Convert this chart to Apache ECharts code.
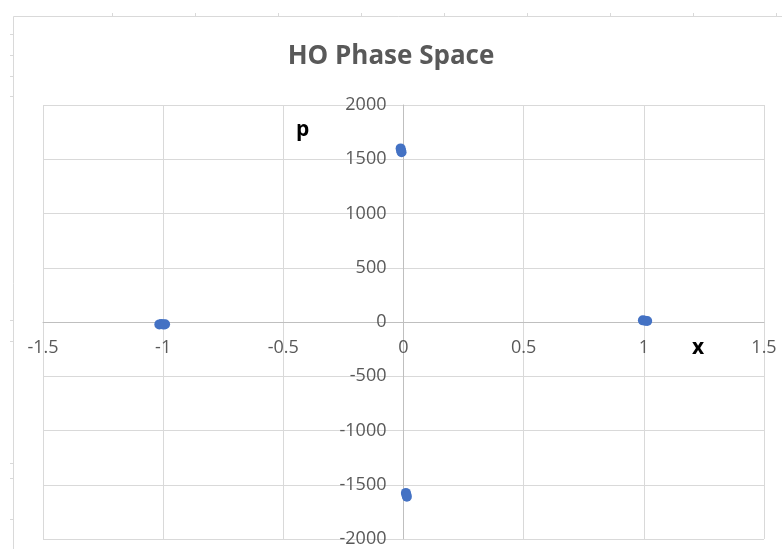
<!DOCTYPE html>
<html>
<head>
<meta charset="utf-8">
<title>HO Phase Space</title>
<script src="https://cdn.jsdelivr.net/npm/echarts@6/dist/echarts.min.js"></script>
<style>
  html, body { margin: 0; padding: 0; background: #ffffff; }
  #chart { width: 782px; height: 549px; }
</style>
</head>
<body>
<div id="chart"></div>
<script>
// Phase-space samples (position x, momentum p) of the harmonic oscillator
const xValues = [-1.016, -1.008, -0.998, -0.992,
                 -0.012, -0.010, -0.008,
                  0.996,  1.005,  1.014,
                  0.010,  0.012,  0.014];
const pValues = [-22, -18, -24, -20,
                 1600, 1580, 1565,
                 15, 12, 10,
                 -1575, -1592, -1610];

// Axis ranges and tick spacing
const xRange = [-1.5, 1.5];
const xStep = 0.5;
const pRange = [-2000, 2000];
const pStep = 500;

const points = xValues.map((x, i) => [x, pValues[i]]);

const labelFont = '"Open Sans", sans-serif';
const grey = '#595959';

// Plot area in pixels
const plot = { left: 43, right: 764, top: 105, bottom: 539 };
const W = 782, H = 549;

// Axes cross at the origin: shift each axis inward onto the other's zero
const xZeroPx = plot.left + (0 - xRange[0]) / (xRange[1] - xRange[0]) * (plot.right - plot.left);
const pZeroPx = plot.bottom - (0 - pRange[0]) / (pRange[1] - pRange[0]) * (plot.bottom - plot.top);

// Faint sheet gridline stubs around the chart frame
const stubs = [];
[112, 195, 278, 361, 444, 527, 610, 693, 776].forEach(x => {
  stubs.push({ type: 'line', silent: true,
    shape: { x1: x + 0.5, y1: 13, x2: x + 0.5, y2: 17 },
    style: { stroke: '#d9d9d9', lineWidth: 1 } });
});
[34, 55, 76, 96, 320, 341, 463, 478, 519].forEach(y => {
  stubs.push({ type: 'line', silent: true,
    shape: { x1: 10, y1: y + 0.5, x2: 13, y2: y + 0.5 },
    style: { stroke: '#d9d9d9', lineWidth: 1 } });
});

const chart = echarts.init(document.getElementById('chart'), null, { renderer: 'canvas' });
chart.setOption({
  backgroundColor: '#ffffff',
  animation: false,
  title: {
    text: 'HO Phase Space',
    left: 'center',
    top: 39,
    textStyle: { fontFamily: labelFont, fontWeight: 'bold', fontSize: 26, color: grey }
  },
  grid: {
    left: plot.left, right: W - plot.right, top: plot.top, bottom: H - plot.bottom,
    containLabel: false, outerBoundsMode: 'none'
  },
  xAxis: {
    type: 'value',
    min: xRange[0], max: xRange[1], interval: xStep,
    position: 'bottom',
    offset: -(plot.bottom - pZeroPx),
    axisLine: { onZero: false, lineStyle: { color: '#bfbfbf', width: 1 } },
    axisTick: { show: false },
    axisLabel: { color: grey, fontFamily: labelFont, fontSize: 18, margin: 17,
                 showMinLabel: true, showMaxLabel: true,
                 formatter: v => String(v) },
    splitLine: { show: true, lineStyle: { color: '#d9d9d9', width: 1 } }
  },
  yAxis: {
    type: 'value',
    min: pRange[0], max: pRange[1], interval: pStep,
    position: 'left',
    offset: -(xZeroPx - plot.left),
    axisLine: { onZero: false, lineStyle: { color: '#bfbfbf', width: 1 } },
    axisTick: { show: false },
    axisLabel: { color: grey, fontFamily: labelFont, fontSize: 18, margin: 17,
                 showMinLabel: true, showMaxLabel: true,
                 formatter: v => String(v) },
    splitLine: { show: true, lineStyle: { color: '#d9d9d9', width: 1 } }
  },
  series: [{
    type: 'scatter',
    data: points,
    symbol: 'circle',
    symbolSize: 10,
    itemStyle: { color: '#4472c4', opacity: 1 }
  }],
  graphic: [
    // chart frame
    { type: 'rect', silent: true,
      shape: { x: 13.5, y: 16.5, width: 800, height: 600 },
      style: { fill: null, stroke: '#d9d9d9', lineWidth: 1 } },
    ...stubs,
    // axis titles
    { type: 'text', silent: true, left: 296, top: 120,
      style: { text: 'p', fill: '#000000', font: 'bold 21px "Open Sans", sans-serif' } },
    { type: 'text', silent: true, left: 692, top: 338,
      style: { text: 'x', fill: '#000000', font: 'bold 21px "Open Sans", sans-serif' } }
  ]
});
</script>
</body>
</html>
